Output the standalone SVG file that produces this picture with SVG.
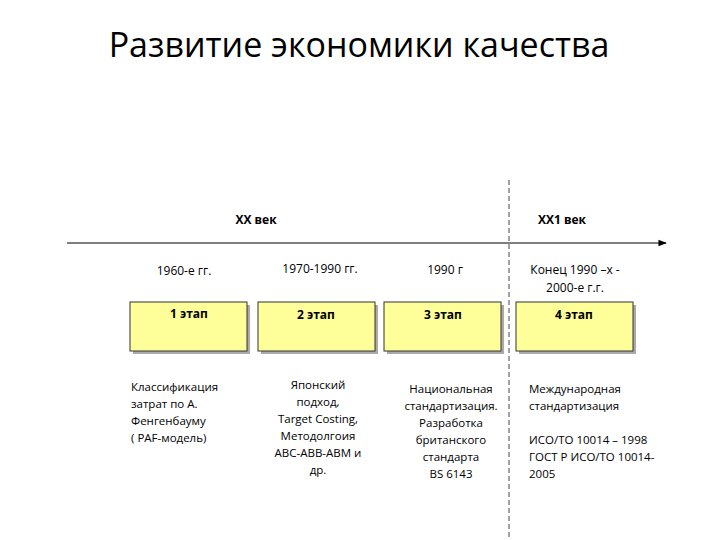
<svg xmlns="http://www.w3.org/2000/svg" width="720" height="540" viewBox="0 0 720 540">
<style>
text{font-family:"Open Sans","Liberation Sans",sans-serif;fill:#000}
.t{font-size:12px;text-anchor:middle}
.d{font-size:11.5px}
.b{font-size:12px;font-weight:bold;text-anchor:middle}
.box{fill:#ffff99;stroke:#333;stroke-width:1}
.sh{fill:#aaa}
</style>
<defs><marker id="ar" viewBox="0 0 10 10" refX="9" refY="5" markerWidth="7" markerHeight="7" orient="auto"><path d="M0,1 L10,5 L0,9 z" fill="#000"/></marker></defs>
<rect width="720" height="540" fill="#fff"/>
<text x="359" y="57" font-size="34" text-anchor="middle">Развитие экономики качества</text>
<g id="connectors">
<line x1="67" y1="243" x2="666" y2="243" stroke="#000" stroke-width="1.2" marker-end="url(#ar)"/>
<line x1="509" y1="180" x2="509" y2="540" stroke="#444" stroke-dasharray="5,3"/>
</g>
<text class="b" x="256" y="224">XX век</text>
<text class="b" x="562" y="224">XX1 век</text>
<text class="t" x="184" y="275">1960-е гг.</text>
<text class="t" x="320" y="273">1970-1990 гг.</text>
<text class="t" x="445" y="274">1990 г</text>
<text class="t" x="575" y="274">Конец 1990 –х -</text>
<text class="t" x="575" y="292">2000-е г.г.</text>
<g id="n1"><rect class="sh" x="133" y="305" width="117" height="49"/><rect class="box" x="130" y="302" width="117" height="49"/><text class="b" x="189" y="318">1 этап</text></g>
<g id="n2"><rect class="sh" x="261" y="305" width="117" height="49"/><rect class="box" x="258" y="302" width="117" height="49"/><text class="b" x="316" y="319">2 этап</text></g>
<g id="n3"><rect class="sh" x="387" y="305" width="117" height="49"/><rect class="box" x="384" y="302" width="117" height="49"/><text class="b" x="443" y="319">3 этап</text></g>
<g id="n4"><rect class="sh" x="519" y="305" width="117" height="49"/><rect class="box" x="516" y="302" width="117" height="49"/><text class="b" x="574" y="319">4 этап</text></g>
<g class="d">
<text x="131" y="391">Классификация</text>
<text x="131" y="408">затрат по А.</text>
<text x="131" y="425">Фенгенбауму</text>
<text x="131" y="442">( PAF-модель)</text>
</g>
<g class="d" text-anchor="middle">
<text x="318" y="389">Японский</text>
<text x="318" y="406">подход,</text>
<text x="318" y="423">Target Costing,</text>
<text x="318" y="440">Методолгоия</text>
<text x="318" y="457">ABC-ABB-ABM и</text>
<text x="318" y="474">др.</text>
<text x="451" y="393">Национальная</text>
<text x="451" y="410">стандартизация.</text>
<text x="451" y="427">Разработка</text>
<text x="451" y="444">британского</text>
<text x="451" y="461">стандарта</text>
<text x="451" y="478">BS 6143</text>
</g>
<g class="d">
<text x="529" y="393">Международная</text>
<text x="529" y="410">стандартизация</text>
<text x="529" y="444">ИСО/ТО 10014 – 1998</text>
<text x="529" y="461">ГОСТ Р ИСО/ТО 10014-</text>
<text x="529" y="478">2005</text>
</g>
</svg>
